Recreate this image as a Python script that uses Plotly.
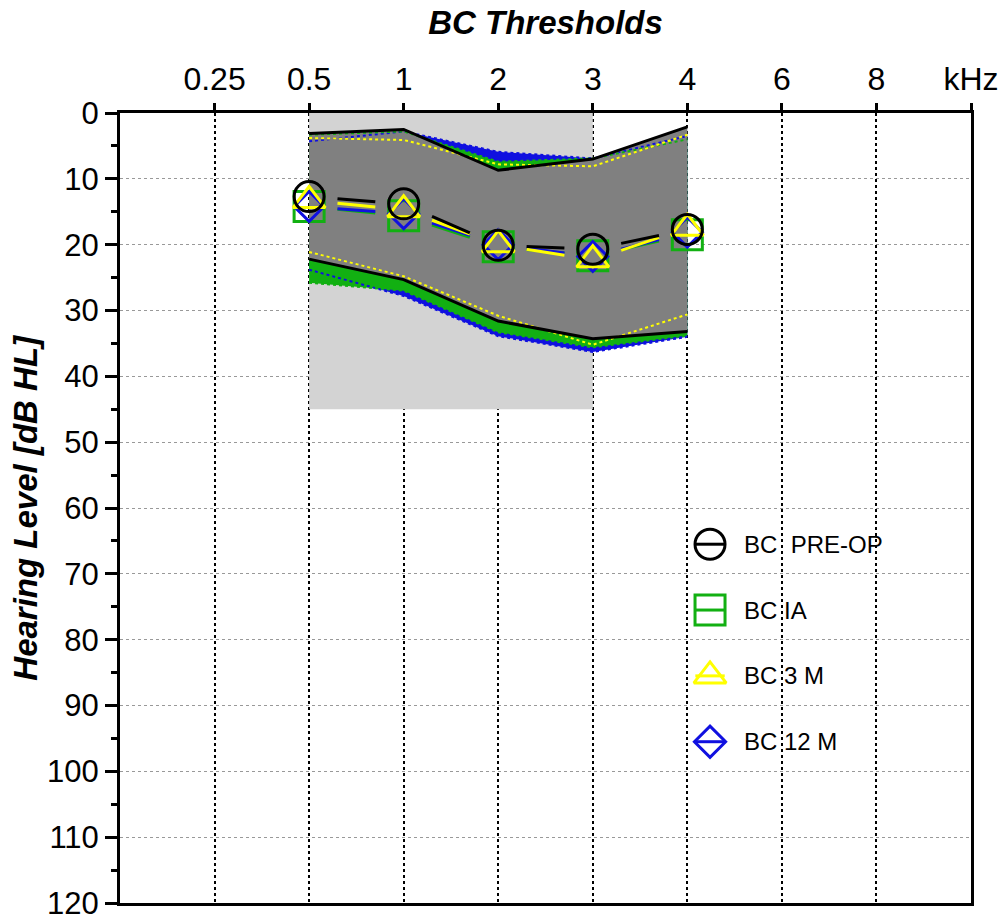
import plotly.graph_objects as go

# ---------------- data ----------------
FREQ_LABELS = ["0.25", "0.5", "1", "2", "3", "4", "6", "8"]
UNIT_LABEL = "kHz"
DATA_FREQS = ["0.5", "1", "2", "3", "4"]

# mean thresholds (dB HL)
pre_op_mean = [12.7, 13.8, 20.1, 20.7, 17.7]
ia_mean = [14.2, 15.6, 20.3, 21.7, 18.5]
m3_mean = [13.3, 14.7, 20.0, 22.3, 17.5]
m12_mean = [14.2, 15.3, 20.0, 21.8, 18.1]

# band edges (upper = better hearing, lower = worse hearing)
pre_op_upper = [3.1, 2.5, 8.7, 7.0, 2.1]
pre_op_lower = [22.2, 25.3, 31.6, 34.3, 33.2]
ia_upper = [3.3, 2.8, 7.4, 6.9, 4.0]
ia_lower = [25.8, 27.0, 33.3, 35.6, 33.8]
m3_upper = [3.8, 4.1, 7.8, 8.1, 3.3]
m3_lower = [21.1, 24.8, 30.8, 35.2, 30.6]
m12_upper = [4.3, 2.8, 5.9, 6.9, 3.5]
m12_lower = [23.8, 27.8, 33.9, 36.3, 34.0]

# light grey reference region
REGION_FREQS = ["0.5", "3"]
REGION_DB = [0, 45]

Y_MAX = 120

# ---------------- style ----------------
FONT = "Arial, Liberation Sans, sans-serif"
BLACK = "#000000"
GREEN = "#12b012"
YELLOW = "#ffff00"
BLUE = "#1010e0"
DARK_GREY = "#808080"
LIGHT_GREY = "#d3d3d3"

pos = {f: i + 1 for i, f in enumerate(FREQ_LABELS)}
xs = [pos[f] for f in DATA_FREQS]

fig = go.Figure()


def band(upper, lower, color):
    fig.add_trace(go.Scatter(
        x=xs + xs[::-1], y=upper + lower[::-1], fill="toself",
        fillcolor=color, mode="lines", line=dict(width=0),
        hoverinfo="skip", showlegend=False))


def edge(vals, color, width, dash):
    fig.add_trace(go.Scatter(
        x=xs, y=vals, mode="lines",
        line=dict(color=color, width=width, dash=dash),
        hoverinfo="skip", showlegend=False))


# coloured bands underneath, grey pre-op band on top
band(m12_upper, m12_lower, BLUE)
band(ia_upper, ia_lower, GREEN)
band(pre_op_upper, pre_op_lower, DARK_GREY)

for vals, col in [(m12_upper, BLUE), (m12_lower, BLUE),
                  (ia_upper, GREEN), (ia_lower, GREEN),
                  (m3_upper, YELLOW), (m3_lower, YELLOW)]:
    edge(vals, col, 2, "dot")
edge(pre_op_upper, BLACK, 3, "solid")
edge(pre_op_lower, BLACK, 3, "solid")

# mean lines drawn as short pieces between markers
T0, T1 = 0.3, 0.7


def pieces(means):
    px, py = [], []
    for i in range(len(xs) - 1):
        for t in (T0, T1):
            px.append(xs[i] + t * (xs[i + 1] - xs[i]))
            py.append(means[i] + t * (means[i + 1] - means[i]))
        px.append(None)
        py.append(None)
    return px, py


series = [
    ("BC IA", ia_mean, GREEN, "square-open", 30),
    ("BC 12 M", m12_mean, BLUE, "diamond-open", 23),
    ("BC 3 M", m3_mean, YELLOW, "triangle-up-open", 28),
    ("BC\u00a0 PRE-OP", pre_op_mean, BLACK, "circle-open", 30),
]

for name, means, col, sym, size in series:
    px, py = pieces(means)
    fig.add_trace(go.Scatter(x=px, y=py, mode="lines",
                             line=dict(color=col, width=3),
                             hoverinfo="skip", showlegend=False))
for name, means, col, sym, size in series:
    fig.add_trace(go.Scatter(x=xs, y=means, mode="markers", name=name,
                             marker=dict(symbol=sym, size=size, color=col,
                                         line=dict(width=3, color=col)),
                             showlegend=False))

# ---------------- hand-made legend ----------------
LEG_X = 6.24
LEG_TEXT_X = 6.58
LEG_Y0 = 65.5
LEG_STEP = 10
legend_items = [
    ("BC\u00a0 PRE-OP", BLACK, "circle-open", 30, 21),
    ("BC IA", GREEN, "square-open", 30, 21),
    ("BC 3 M", YELLOW, "triangle-up-open", 28, 21),
    ("BC 12 M", BLUE, "diamond-open", 24, 22),
]
for k, (name, col, sym, size, lsize) in enumerate(legend_items):
    ly = LEG_Y0 + k * LEG_STEP
    fig.add_trace(go.Scatter(x=[LEG_X], y=[ly], mode="markers",
                             marker=dict(symbol=sym, size=size, color=col,
                                         line=dict(width=3, color=col)),
                             hoverinfo="skip", showlegend=False))
    fig.add_trace(go.Scatter(x=[LEG_X], y=[ly], mode="markers",
                             marker=dict(symbol="line-ew", size=lsize, color=col,
                                         line=dict(width=3, color=col)),
                             hoverinfo="skip", showlegend=False))
    fig.add_annotation(x=LEG_TEXT_X, y=ly, xref="x", yref="y", text=name,
                       showarrow=False, xanchor="left", yanchor="middle",
                       font=dict(family=FONT, size=24, color=BLACK))

# light grey region (above grid, below traces)
fig.add_shape(type="rect", xref="x", yref="y",
              x0=pos[REGION_FREQS[0]], x1=pos[REGION_FREQS[1]],
              y0=REGION_DB[0], y1=REGION_DB[1],
              fillcolor=LIGHT_GREY, line=dict(width=0), layer="between")

fig.update_layout(
    width=1003, height=921,
    margin=dict(l=120, r=32, t=113, b=18, autoexpand=False),
    paper_bgcolor="white", plot_bgcolor="white",
    font=dict(family=FONT, color=BLACK),
    title=dict(text="<b><i>BC Thresholds</i></b>", x=0.5, xref="paper",
               y=1 - 22 / 921, yref="container", yanchor="middle",
               xanchor="center", font=dict(family=FONT, size=33, color=BLACK)),
    showlegend=False,
)

fig.add_annotation(text="<b><i>Hearing Level [dB HL]</i></b>", textangle=-90,
                   xref="paper", yref="paper", x=-0.112, y=0.5,
                   showarrow=False, xanchor="center", yanchor="middle",
                   font=dict(family=FONT, size=33, color=BLACK))

fig.update_xaxes(
    range=[0, len(FREQ_LABELS) + 1], side="top",
    tickvals=list(range(1, len(FREQ_LABELS) + 2)),
    ticktext=FREQ_LABELS + [UNIT_LABEL],
    ticks="outside", ticklen=7, tickwidth=3, tickcolor=BLACK,
    showline=True, linewidth=3, linecolor=BLACK, mirror=True,
    showgrid=True, gridcolor=BLACK, griddash="dot", gridwidth=1.5,
    zeroline=False, automargin=False, ticklabeloverflow="allow",
    tickfont=dict(family=FONT, size=32, color=BLACK),
)
fig.update_yaxes(
    range=[Y_MAX, 0], tickvals=list(range(0, Y_MAX + 1, 10)),
    ticks="outside", ticklen=12, tickwidth=3, tickcolor=BLACK,
    minor=dict(tickvals=list(range(5, Y_MAX, 10)), ticks="outside",
               ticklen=6, tickwidth=3, tickcolor=BLACK, showgrid=False),
    showline=True, linewidth=3, linecolor=BLACK, mirror=True,
    showgrid=True, gridcolor="#999999", griddash="dot", gridwidth=1,
    zeroline=False, automargin=False, ticklabeloverflow="allow",
    tickfont=dict(family=FONT, size=31, color=BLACK),
)

fig.write_html("out.html")
